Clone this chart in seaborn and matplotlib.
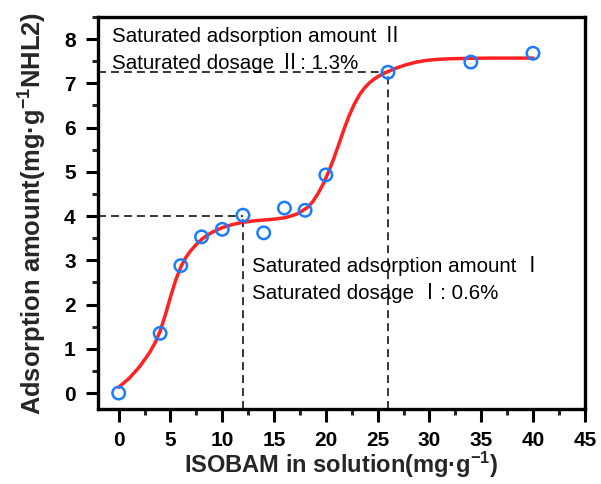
import matplotlib
matplotlib.use("Agg")
import matplotlib.pyplot as plt
from matplotlib.ticker import MultipleLocator
import pandas as pd
import seaborn as sns

# Measured adsorption points
dose = [0, 4, 6, 8, 10, 12, 14, 16, 18, 20, 26, 34, 40]
adsorbed = [0.0, 1.35, 2.88, 3.53, 3.70, 4.02, 3.62, 4.18, 4.13, 4.93, 7.25, 7.48, 7.68]

# Fitted two-step isotherm (sampled)
fit_x = [0, 1, 2, 3, 3.5, 4, 4.5, 5, 5.5, 6, 6.5, 7, 7.5, 8, 8.5, 9, 10, 11, 12,
         13, 14, 15, 16, 16.75, 17.25, 17.75, 18.25, 18.75, 19.25, 19.75, 20.25,
         20.75, 21.25, 21.75, 22.25, 22.75, 23.25, 23.75, 24.25, 24.75, 25.25,
         25.75, 26.75, 27.75, 28.75, 29.75, 30.75, 32, 34, 36, 38, 40]
fit_y = [0.13, 0.33, 0.59, 0.92, 1.13, 1.40, 1.76, 2.17, 2.55, 2.85, 3.07, 3.23,
         3.36, 3.47, 3.56, 3.63, 3.74, 3.81, 3.86, 3.89, 3.91, 3.93, 3.96, 4.01,
         4.05, 4.12, 4.20, 4.33, 4.51, 4.73, 4.99, 5.29, 5.62, 5.96, 6.27, 6.53,
         6.74, 6.90, 7.02, 7.11, 7.18, 7.24, 7.34, 7.42, 7.48, 7.52, 7.54, 7.555,
         7.565, 7.57, 7.57, 7.57]

# Saturation plateaus: (dose at saturation, saturated amount)
sat_dose = [12, 26]
sat_amount = [4.0, 7.25]

x_ticks = [0, 5, 10, 15, 20, 25, 30, 35, 40, 45]
y_ticks = [0, 1, 2, 3, 4, 5, 6, 7, 8]

sns.set_theme(style="ticks")
plt.rcParams["font.family"] = ["Liberation Sans", "Noto Sans CJK SC"]
plt.rcParams["mathtext.default"] = "regular"

fig = plt.figure(figsize=(6.01, 4.84), dpi=100)
ax = fig.add_axes([0.163, 0.155, 0.81, 0.81])

xmin, xmax = -2, 45
ymin, ymax = -0.36, 8.5

# Guide lines for the two saturation points
for sx, sy in zip(sat_dose, sat_amount):
    ax.plot([xmin, sx], [sy, sy], color="black", lw=1.1, dashes=(5.2, 3.3), zorder=1)
    ax.plot([sx, sx], [ymin, sy], color="black", lw=1.1, dashes=(5.2, 3.3), zorder=1)

fit_df = pd.DataFrame({"x": fit_x, "y": fit_y})
pts_df = pd.DataFrame({"x": dose, "y": adsorbed})

sns.lineplot(data=fit_df, x="x", y="y", ax=ax, color="#ff2222", lw=2.5,
             zorder=2, sort=False, solid_joinstyle="round", solid_capstyle="round")
sns.scatterplot(data=pts_df, x="x", y="y", ax=ax, marker="o", s=80,
                facecolor="none", edgecolor="#1a7cff", linewidth=1.8, zorder=3)

ax.set_xlim(xmin, xmax)
ax.set_ylim(ymin, ymax)
ax.set_xticks(x_ticks)
ax.set_yticks(y_ticks)
ax.xaxis.set_minor_locator(MultipleLocator(2.5))
ax.yaxis.set_minor_locator(MultipleLocator(0.5))

for s in ax.spines.values():
    s.set_linewidth(2.4)
    s.set_color("black")

ax.tick_params(axis="both", which="major", direction="out", length=9, width=2.2,
               labelsize=15, pad=7, colors="black")
ax.tick_params(axis="both", which="minor", direction="out", length=4.5, width=2.2)
ax.tick_params(top=False, right=False, which="both")
for lbl in ax.get_xticklabels() + ax.get_yticklabels():
    lbl.set_fontweight("bold")

ax.set_xlabel("ISOBAM in solution(mg·g$^{-1}$)", fontsize=17, fontweight="bold",
              labelpad=0)
ax.set_ylabel("Adsorption amount(mg·g$^{-1}$NHL2)", fontsize=18.4, fontweight="bold",
              labelpad=11)

txt_kw = dict(fontsize=14.8, color="black", ha="left", va="center")
ax.text(-0.6, 8.07, "Saturated adsorption amount Ⅱ", **txt_kw)
ax.text(-0.6, 7.45, "Saturated dosage Ⅱ: 1.3%", **txt_kw)
ax.text(12.85, 2.87, "Saturated adsorption amount Ⅰ", **txt_kw)
ax.text(12.85, 2.27, "Saturated dosage Ⅰ: 0.6%", **txt_kw)

fig.savefig("out.png", dpi=100)
